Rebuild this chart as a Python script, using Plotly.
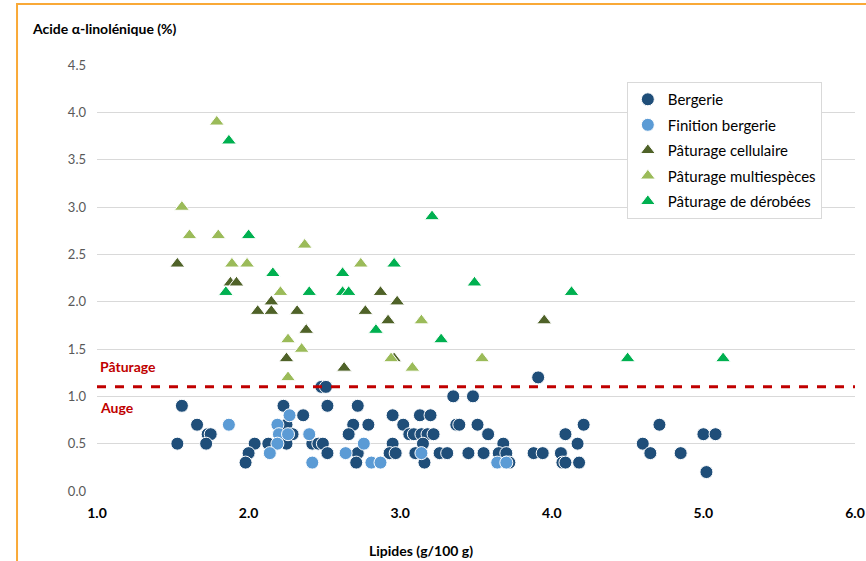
import plotly.graph_objects as go

# ---- Data ----
bergerie_x = [1.56, 1.66, 1.73, 1.75, 1.53, 1.72, 2.04, 2.00, 1.98, 2.23, 2.36, 2.25, 2.29,
              2.13, 2.25, 2.42, 2.46, 2.49, 2.52, 2.48, 2.51, 2.52, 2.72, 2.69, 2.66, 2.72,
              2.71, 2.79, 2.95, 3.02, 3.13, 3.20, 3.06, 3.09, 3.14, 3.18, 3.22, 2.95, 2.93,
              2.97, 3.15, 3.10, 3.16, 3.26, 3.31, 3.35, 3.48, 3.37, 3.39, 3.51, 3.58, 3.45,
              3.55, 3.68, 3.65, 3.70, 3.70, 3.72, 3.88, 3.94, 3.91, 4.06, 4.07, 4.09, 4.09,
              4.17, 4.21, 4.18, 4.60, 4.65, 4.71, 4.85, 5.00, 5.08, 5.02]
bergerie_y = [0.9, 0.7, 0.6, 0.6, 0.5, 0.5, 0.5, 0.4, 0.3, 0.9, 0.8, 0.7, 0.6,
              0.5, 0.5, 0.5, 0.5, 0.5, 0.4, 1.1, 1.1, 0.9, 0.9, 0.7, 0.6, 0.4,
              0.3, 0.7, 0.8, 0.7, 0.8, 0.8, 0.6, 0.6, 0.6, 0.6, 0.6, 0.5, 0.4,
              0.4, 0.5, 0.4, 0.3, 0.4, 0.4, 1.0, 1.0, 0.7, 0.7, 0.7, 0.6, 0.4,
              0.4, 0.5, 0.4, 0.4, 0.3, 0.3, 0.4, 0.4, 1.2, 0.4, 0.3, 0.3, 0.6,
              0.5, 0.7, 0.3, 0.5, 0.4, 0.7, 0.4, 0.6, 0.6, 0.2]

finition_x = [1.87, 2.27, 2.19, 2.20, 2.26, 2.19, 2.14, 2.40, 2.42, 2.64, 2.76, 2.81, 2.87,
              3.14, 3.64, 3.70]
finition_y = [0.7, 0.8, 0.7, 0.6, 0.6, 0.5, 0.4, 0.6, 0.3, 0.4, 0.5, 0.3, 0.3,
              0.4, 0.3, 0.3]

cellulaire_x = [1.53, 1.88, 1.92, 2.06, 2.15, 2.15, 2.32, 2.38, 2.25, 2.63, 2.77, 2.87,
                2.92, 2.98, 2.96, 3.95]
cellulaire_y = [2.4, 2.2, 2.2, 1.9, 2.0, 1.9, 1.9, 1.7, 1.4, 1.3, 1.9, 2.1,
                1.8, 2.0, 1.4, 1.8]

multi_x = [1.56, 1.61, 1.80, 1.79, 1.89, 1.99, 2.37, 2.21, 2.26, 2.35, 2.26, 2.74,
           2.94, 3.08, 3.14, 3.54]
multi_y = [3.0, 2.7, 2.7, 3.9, 2.4, 2.4, 2.6, 2.1, 1.6, 1.5, 1.2, 2.4,
           1.4, 1.3, 1.8, 1.4]

derobees_x = [1.87, 1.85, 2.00, 2.16, 2.40, 2.62, 2.62, 2.66, 2.96, 2.84, 3.21, 3.27,
              3.49, 4.13, 4.50, 5.13]
derobees_y = [3.7, 2.1, 2.7, 2.3, 2.1, 2.3, 2.1, 2.1, 2.4, 1.7, 2.9, 1.6,
              2.2, 2.1, 1.4, 1.4]

series_names = ["Bergerie", "Finition bergerie", "Pâturage cellulaire",
                "Pâturage multiespèces", "Pâturage de dérobées"]
threshold = 1.1
x_ticks = [1.0, 2.0, 3.0, 4.0, 5.0, 6.0]
y_ticks = [0.0, 0.5, 1.0, 1.5, 2.0, 2.5, 3.0, 3.5, 4.0, 4.5]

FONT = "Lato, 'Noto Sans', sans-serif"

fig = go.Figure()

specs = [
    (bergerie_x, bergerie_y, series_names[0], "#1F4E79", "circle", 13),
    (finition_x, finition_y, series_names[1], "#5B9BD5", "circle", 13),
    (cellulaire_x, cellulaire_y, series_names[2], "#4F6228", "triangle-up", 13),
    (multi_x, multi_y, series_names[3], "#9BBB59", "triangle-up", 13),
    (derobees_x, derobees_y, series_names[4], "#00B050", "triangle-up", 13),
]
for xs, ys, name, color, sym, size in specs:
    fig.add_trace(go.Scatter(
        x=xs, y=ys, mode="markers", name=name, legendgroup=name,
        marker=dict(color=color, symbol=sym, size=size,
                    line=dict(color="white", width=1)),
    ))

# threshold dashed line
fig.add_shape(type="line", xref="paper", x0=0, x1=1, yref="y", y0=threshold, y1=threshold,
              line=dict(color="#C00000", width=3, dash="dash"), layer="above")

# orange frame
fig.add_shape(type="rect", xref="paper", yref="paper",
              x0=-0.1055, x1=1.03, y0=-0.2, y1=1.143,
              line=dict(color="#F9A937", width=2), fillcolor="rgba(0,0,0,0)", layer="below")

fig.add_annotation(text="<b>Pâturage</b>", xref="paper", yref="y", x=0.001, y=1.32,
                   xanchor="left", yanchor="middle", showarrow=False,
                   font=dict(family=FONT, size=14, color="#C00000"))
fig.add_annotation(text="<b>Auge</b>", xref="paper", yref="y", x=0.001, y=0.88,
                   xanchor="left", yanchor="middle", showarrow=False,
                   font=dict(family=FONT, size=14, color="#C00000"))
fig.add_annotation(text="<b>Acide α-linolénique (%)</b>", xref="paper", yref="paper",
                   x=-0.088, y=1.085, xanchor="left", yanchor="middle", showarrow=False,
                   font=dict(family=FONT, size=14, color="#000000"))
fig.add_annotation(text="<b>Lipides (g/100 g)</b>", xref="paper", yref="paper",
                   x=0.427, y=-0.14, xanchor="center", yanchor="middle", showarrow=False,
                   font=dict(family=FONT, size=14, color="#000000"))

fig.update_layout(
    width=866, height=561,
    margin=dict(l=97, r=11, t=65, b=70, autoexpand=False),
    paper_bgcolor="white", plot_bgcolor="white",
    font=dict(family=FONT, size=13, color="#000000"),
    showlegend=True,
    legend=dict(x=0.699, y=0.96, xanchor="left", yanchor="top",
                bgcolor="white", bordercolor="#D9D9D9", borderwidth=1,
                traceorder="grouped", tracegroupgap=3, itemwidth=30,
                font=dict(family=FONT, size=15, color="#000000")),
    xaxis=dict(range=[1, 6], tickvals=x_ticks, ticktext=[f"<b>{v:.1f}</b>" for v in x_ticks],
               showgrid=False, zeroline=False, showline=False, automargin=False,
               ticks="", ticklabelstandoff=12,
               tickfont=dict(family=FONT, size=14, color="#000000")),
    yaxis=dict(range=[0, 4.5], tickvals=y_ticks, ticktext=[f"{v:.1f}" for v in y_ticks],
               showgrid=True, gridcolor="#D9D9D9", gridwidth=1, zeroline=False,
               showline=False, ticks="", ticklabelstandoff=10, automargin=False,
               tickfont=dict(family=FONT, size=13, color="#595959")),
)

fig.write_html("out.html", config={"displayModeBar": False},
               post_script="document.body.style.margin='0';document.body.style.overflow='hidden';")
